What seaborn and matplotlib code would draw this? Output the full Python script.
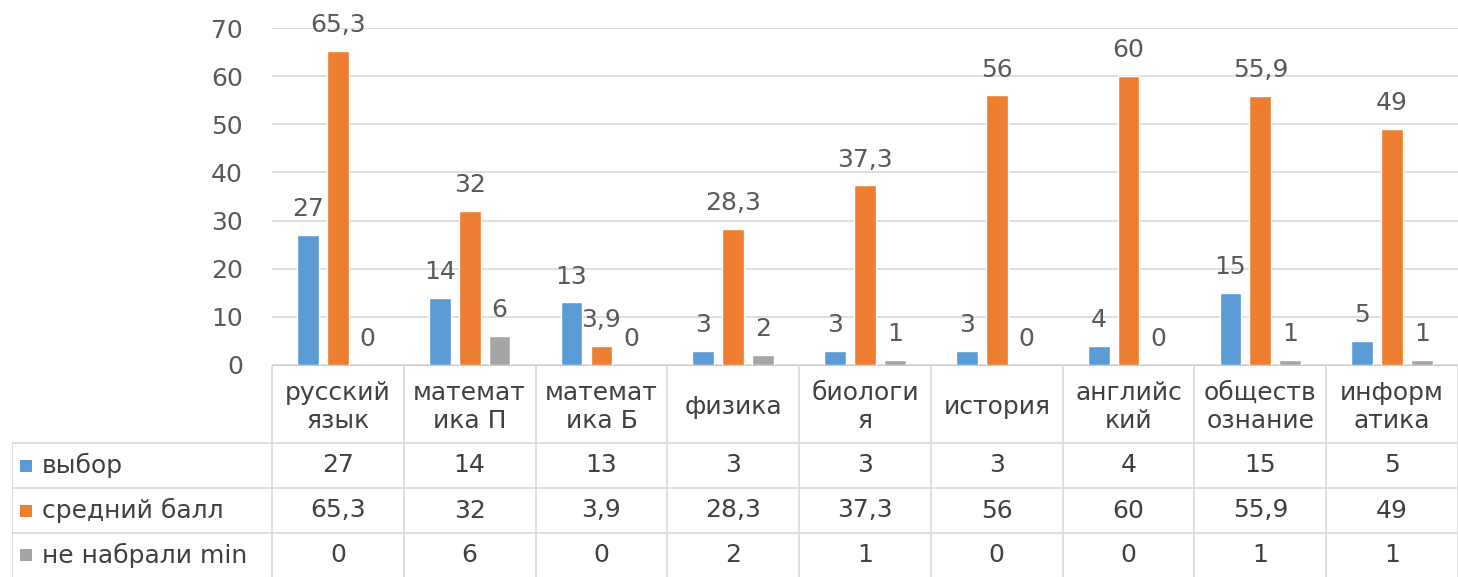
import numpy as np
import pandas as pd
import matplotlib
matplotlib.use("Agg")
import matplotlib.pyplot as plt
import seaborn as sns

# Chart data
subjects = ["русский\nязык", "математ\nика П", "математ\nика Б", "физика", "биологи\nя",
            "история", "английс\nкий", "обществ\nознание", "информ\nатика"]
series = ["выбор", "средний балл", "не набрали min"]
vybor = [27, 14, 13, 3, 3, 3, 4, 15, 5]
sredniy = [65.3, 32, 3.9, 28.3, 37.3, 56, 60, 55.9, 49]
ne_nabrali = [0, 6, 0, 2, 1, 0, 0, 1, 1]
colors = ["#5B9BD5", "#ED7D31", "#A5A5A5"]

df = pd.DataFrame({
    "subject": subjects * 3,
    "series": [series[0]] * 9 + [series[1]] * 9 + [series[2]] * 9,
    "value": vybor + sredniy + ne_nabrali,
})


def fmt_num(v):
    return f"{v:g}".replace(".", ",")


sns.set_style("white")
plt.rcParams["font.family"] = ["DejaVu Sans"]
text_col = "#595959"
fs = 18

W, H = 1458, 577
fig = plt.figure(figsize=(W / 100, H / 100), dpi=100)

# main plot area (pixel positions from reference)
px_left, px_right, px_zero, px_top = 272, 1458, 365, 28
ax = fig.add_axes([px_left / W, (H - px_zero) / H, (px_right - px_left) / W, (px_zero - px_top) / H])

sns.barplot(data=df, x="subject", y="value", hue="series", hue_order=series,
            palette=colors, width=0.68, gap=0.27, legend=False, saturation=1,
            ax=ax, order=subjects)

ax.set_xlim(-0.5, 8.5)
ax.set_ylim(0, 70)
ax.set_yticks(np.arange(0, 71, 10))
ax.tick_params(axis="y", length=0, pad=21, labelsize=fs, labelcolor=text_col)
ax.set_xticks([])
ax.set_xlabel("")
ax.set_ylabel("")
ax.yaxis.grid(True, color="#D9D9D9", linewidth=1.2)
ax.set_axisbelow(True)
for s in ax.spines.values():
    s.set_visible(False)

for cont in ax.containers:
    ax.bar_label(cont, labels=[fmt_num(b.get_height()) for b in cont], padding=10,
                 fontsize=fs, color=text_col)

# data table under the chart
cw = (px_right - px_left) / 9
x0 = -0.5 - (px_left - 12) / cw
tab = fig.add_axes([12 / W, 0, (W - 12) / W, (H - px_zero) / H])
tab.set_xlim(x0, 8.5)
tab.set_ylim(H - px_zero, 0)
tab.axis("off")

line_col = "#D9D9D9"
row_edges = [78, 123, 168, 212]
tab.hlines(0, -0.5, 8.5, color="#BFBFBF", lw=1.2)
for y in row_edges[:-1]:
    tab.hlines(y, x0, 8.5, color=line_col, lw=1.2)
for k in range(10):
    tab.vlines(-0.5 + k, 0, 212, color=line_col, lw=1.2)
tab.vlines(x0, 78, 212, color=line_col, lw=1.2)

for i, name in enumerate(subjects):
    tab.text(i, 42, name, ha="center", va="center", fontsize=fs, color="#404040",
             linespacing=1.25)

rows = [vybor, sredniy, ne_nabrali]
for r, (name, vals, c) in enumerate(zip(series, rows, colors)):
    yc = (row_edges[r] + row_edges[r + 1]) / 2
    tab.add_patch(plt.Rectangle((x0 + 8 / cw, yc - 6), 12 / cw, 12, color=c, lw=0))
    tab.text(x0 + 30 / cw, yc, name, ha="left", va="center", fontsize=fs, color="#404040")
    for i, v in enumerate(vals):
        tab.text(i, yc, fmt_num(v), ha="center", va="center", fontsize=fs, color="#404040")

fig.savefig("out.png", dpi=100)
